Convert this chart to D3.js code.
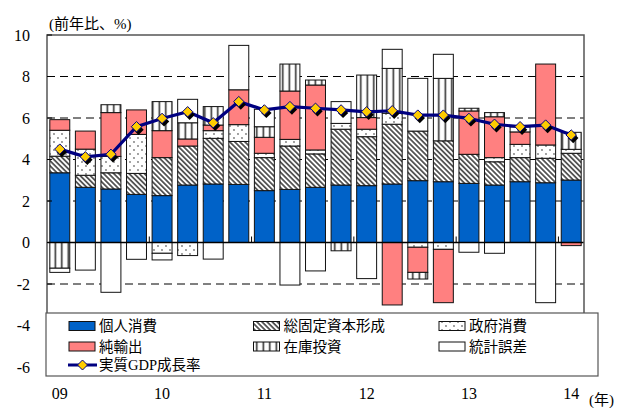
<!DOCTYPE html>
<html><head><meta charset="utf-8">
<script src="https://cdn.jsdelivr.net/npm/d3@7"></script>
<style>
body{margin:0;background:#fff;}
svg{display:block;}
text{font-family:"Liberation Serif","Noto Sans CJK JP",serif;fill:#000;}
</style></head>
<body><svg id="c" width="619" height="408"></svg>
<script>
const quarters = ["09Q1","09Q2","09Q3","09Q4","10Q1","10Q2","10Q3","10Q4","11Q1","11Q2","11Q3","11Q4","12Q1","12Q2","12Q3","12Q4","13Q1","13Q2","13Q3","13Q4","14Q1"];
const personal  = [3.36,2.66,2.58,2.32,2.26,2.77,2.82,2.80,2.50,2.56,2.66,2.77,2.74,2.82,2.98,2.93,2.85,2.77,2.93,2.88,3.01];
const gfcf      = [0.80,0.58,0.78,1.01,1.83,1.88,2.20,2.07,1.59,2.09,1.61,2.69,2.36,2.88,2.39,1.97,1.40,1.12,1.16,1.18,1.29];
const govt      = [1.25,1.26,0.79,1.88,-0.52,-0.63,0.37,0.81,0.21,0.32,0.19,0.28,0.36,0.53,-0.23,-0.33,0,0.20,0.64,0.64,0.19];
const netExp    = [0.51,0.87,2.11,1.18,1.30,0.34,0.27,1.68,0.77,2.33,3.13,0,0.56,-3.01,-1.21,-2.57,2.09,1.97,0.60,3.90,-0.15];
const inventory = [-1.24,0,0.38,0,1.40,0.78,0.89,0,0.51,1.30,0.24,-0.40,2.05,2.16,-0.32,3.01,0.13,0.20,0,0,0.82];
const statDisc  = [-0.20,-1.33,-2.40,-0.81,-0.32,1.13,-0.80,2.14,0.84,-2.05,-1.37,1.05,-1.74,0.92,2.54,1.16,-0.47,-0.52,0.24,-2.90,0];
const gdp       = [4.50,4.13,4.25,5.58,5.98,6.30,5.77,6.79,6.39,6.55,6.47,6.39,6.30,6.35,6.14,6.14,5.98,5.70,5.58,5.66,5.18];
const yTicks = [10,8,6,4,2,0,-2,-4,-6];
const gridVals = [8,6,4,2,-2,-4];
const seriesNames = ["個人消費","総固定資本形成","政府消費","純輸出","在庫投資","統計誤差"];
const lineName = "実質GDP成長率";
const yUnit = "(前年比、%)";
const xUnit = "(年)";

const series = [personal,gfcf,govt,netExp,inventory,statDisc];
const keys = ["p","g","v","n","i","s"];
const fills = ["#0062C8","url(#hatch)","url(#dots)","#FF8080","url(#vstripe)","#ffffff"];

const svg = d3.select("#c");
const defs = svg.append("defs");
// patterns
const ph = defs.append("pattern").attr("id","hatch").attr("patternUnits","userSpaceOnUse")
  .attr("width",3.6).attr("height",10).attr("patternTransform","rotate(-45)");
ph.append("rect").attr("width",3.6).attr("height",10).attr("fill","#fff");
ph.append("rect").attr("width",1.8).attr("height",10).attr("fill","#555");
const pd = defs.append("pattern").attr("id","dots").attr("patternUnits","userSpaceOnUse")
  .attr("width",8).attr("height",8);
pd.append("rect").attr("width",8).attr("height",8).attr("fill","#fff");
pd.append("circle").attr("cx",2).attr("cy",2).attr("r",0.9).attr("fill","#777");
pd.append("circle").attr("cx",6).attr("cy",6).attr("r",0.9).attr("fill","#777");
const pv = defs.append("pattern").attr("id","vstripe").attr("patternUnits","userSpaceOnUse")
  .attr("width",6.5).attr("height",10);
pv.append("rect").attr("width",6.5).attr("height",10).attr("fill","#fff");
pv.append("rect").attr("x",2.5).attr("width",1.6).attr("height",10).attr("fill","#333");

const L = 47, R = 584, T = 35;
const x = d3.scaleBand().domain(quarters).range([L,R]).paddingInner(0.22).paddingOuter(0.11);
const y = d3.scaleLinear().domain([-6,10]).range([367,35]);

const table = quarters.map((q,i)=>{const o={q}; keys.forEach((k,j)=>o[k]=series[j][i]); return o;});
const stack = d3.stack().keys(keys).offset(d3.stackOffsetDiverging)(table);

// gridlines
svg.append("g").selectAll("line").data(gridVals).join("line")
  .attr("x1",L).attr("x2",R).attr("y1",d=>y(d)).attr("y2",d=>y(d))
  .attr("stroke","#000").attr("stroke-width",1).attr("stroke-dasharray","8,5");

// bars
stack.forEach((layer,j)=>{
  svg.append("g").selectAll("rect").data(layer.filter(d=>d[1]!==d[0])).join("rect")
    .attr("x",d=>x(d.data.q)).attr("width",x.bandwidth())
    .attr("y",d=>y(Math.max(d[0],d[1]))).attr("height",d=>Math.abs(y(d[0])-y(d[1])))
    .attr("fill",fills[j]).attr("stroke","#111").attr("stroke-width",1);
});

// zero line
svg.append("line").attr("x1",L).attr("x2",R).attr("y1",y(0)).attr("y2",y(0)).attr("stroke","#000").attr("stroke-width",1.3);
// year ticks at year boundaries
const step = x.step();
const yearStarts = quarters.filter(q=>q.endsWith("Q1"));
svg.append("g").selectAll("line").data(yearStarts.filter((q,i)=>i>0)).join("line")
  .attr("x1",d=>x(d)-step*0.11).attr("x2",d=>x(d)-step*0.11)
  .attr("y1",y(0)).attr("y2",y(0)-6).attr("stroke","#000").attr("stroke-width",1);

// frame
svg.append("path").attr("d",`M${L},376V${T}H${R}V313`).attr("fill","none").attr("stroke","#555").attr("stroke-width",1.5);
// y ticks
svg.append("g").selectAll("line").data(yTicks).join("line")
  .attr("x1",L).attr("x2",L+5).attr("y1",d=>y(d)).attr("y2",d=>y(d)).attr("stroke","#000");
svg.append("g").selectAll("text").data(yTicks).join("text")
  .attr("x",30).attr("y",d=>y(d)).attr("dy","0.35em").attr("text-anchor","end")
  .attr("font-size",16).text(d=>d);

// titles
svg.append("text").attr("x",49).attr("y",29).attr("font-size",15).text(yUnit);
svg.append("text").attr("x",589).attr("y",405).attr("font-size",15).text(xUnit);
// x labels
svg.append("g").selectAll("text").data(yearStarts).join("text")
  .attr("x",d=>x(d)+x.bandwidth()/2).attr("y",399).attr("text-anchor","middle")
  .attr("font-size",16).text(d=>d.slice(0,2));

// legend
const lg = svg.append("g");
lg.append("rect").attr("x",46).attr("y",313).attr("width",552).attr("height",63)
  .attr("fill","#fff").attr("stroke","#555").attr("stroke-width",1.2);
const colX = [69,253.5,439], rowY = [326,346.5];
seriesNames.forEach((nm,j)=>{
  const cx = colX[j%3], cy = rowY[Math.floor(j/3)];
  lg.append("rect").attr("x",cx).attr("y",cy-4.5).attr("width",26).attr("height",9)
    .attr("fill",fills[j]).attr("stroke","#111").attr("stroke-width",1);
  lg.append("text").attr("x",cx+30).attr("y",cy).attr("dy","0.36em").attr("font-size",14.5).text(nm);
});
lg.append("line").attr("x1",68).attr("x2",97).attr("y1",365).attr("y2",365).attr("stroke","#000080").attr("stroke-width",3);
lg.append("path").attr("d","M0,-5L5,0L0,5L-5,0Z").attr("transform","translate(82.5,365)")
  .attr("fill","#FFCC00").attr("stroke","#000080").attr("stroke-width",1);
lg.append("text").attr("x",99).attr("y",365).attr("dy","0.36em").attr("font-size",14.5).text(lineName);

// GDP line
const cxq = (q)=>x(q)+x.bandwidth()/2;
const line = d3.line().x((d,i)=>cxq(quarters[i])).y(d=>y(d));
svg.append("path").datum(gdp).attr("d",line).attr("fill","none").attr("stroke","#000080").attr("stroke-width",3.2);
const diamond = "M0,-5.2L5.2,0L0,5.2L-5.2,0Z";
svg.append("g").selectAll("path").data(gdp).join("path").attr("d",diamond)
  .attr("transform",(d,i)=>`translate(${cxq(quarters[i])+2},${y(d)+3})`).attr("fill","#000");
svg.append("g").selectAll("path").data(gdp).join("path").attr("d",diamond)
  .attr("transform",(d,i)=>`translate(${cxq(quarters[i])},${y(d)})`)
  .attr("fill","#FFCC00").attr("stroke","#000080").attr("stroke-width",1);
</script></body></html>
